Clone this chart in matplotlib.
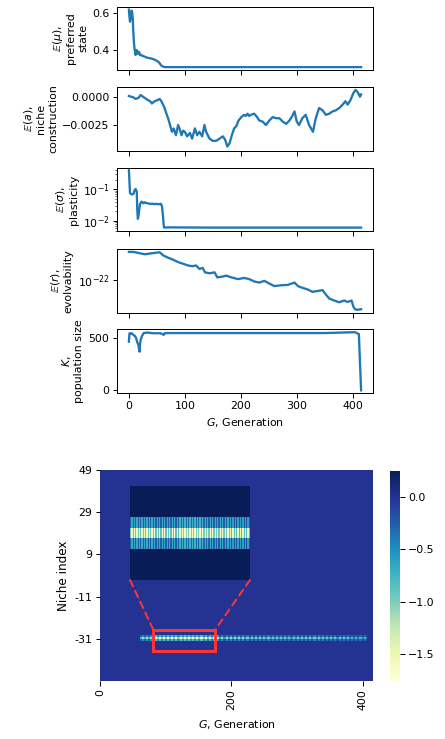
import numpy as np
import matplotlib
matplotlib.use("Agg")
import matplotlib.pyplot as plt
from matplotlib.patches import Rectangle, ConnectionPatch
from matplotlib.ticker import FixedLocator, NullLocator, LogFormatterSciNotation

# ---------------- data ----------------
mu_gen = [0, 1, 2, 3, 4, 5, 6, 7, 8, 9, 10, 11, 12, 13, 14, 15, 16, 17, 18, 19, 20,
          22, 24, 26, 28, 30, 32, 35, 38, 41, 44, 47, 50, 53, 55, 57, 59, 61, 63, 66,
          70, 100, 200, 300, 415]
mu_val = [0.618, 0.578, 0.552, 0.605, 0.570, 0.612, 0.600, 0.560, 0.488, 0.440, 0.405,
          0.385, 0.371, 0.392, 0.398, 0.378, 0.386, 0.380, 0.389, 0.376, 0.370,
          0.372, 0.366, 0.365, 0.362, 0.359, 0.357, 0.355, 0.353, 0.351, 0.348, 0.344,
          0.339, 0.333, 0.326, 0.317, 0.311, 0.308, 0.306, 0.305,
          0.305, 0.305, 0.305, 0.305, 0.305]

a_gen = [0, 4, 8, 12, 17, 21, 25, 28, 34, 38, 41, 46, 51, 55, 58, 63, 67, 70, 73, 77,
         80, 84, 88, 91, 94, 97, 100, 104, 109, 113, 118, 122, 126, 131, 135, 138, 144,
         150, 156, 162, 168, 172, 176, 180, 184, 188, 192, 196, 201, 206, 209, 212, 215,
         218, 224, 229, 233, 239, 245, 251, 257, 263, 269, 275, 281, 287, 292, 296, 300,
         304, 310, 316, 322, 329, 334, 340, 346, 352, 358, 364, 370, 376, 382, 387, 391,
         396, 401, 405, 409, 413, 415]
a_val = [0.00006, 0.0000, -0.00006, -0.0002, -0.0001, 0.00015, 0.0000, -0.0001,
         -0.0003, -0.0004, -0.0006, -0.0004, -0.0003, -0.0002, -0.0004, -0.0009,
         -0.0015, -0.0019, -0.0024, -0.0031, -0.0028, -0.0034, -0.0025, -0.0029,
         -0.0034, -0.0030, -0.0031, -0.0035, -0.0032, -0.0037, -0.0028, -0.0034,
         -0.0031, -0.0035, -0.0025, -0.0031, -0.0037, -0.0039, -0.0039, -0.0037,
         -0.0035, -0.0038, -0.0044, -0.0041, -0.0034, -0.0028, -0.0026, -0.0021,
         -0.0018, -0.0016, -0.0017, -0.0015, -0.0017, -0.0016, -0.0015, -0.0018,
         -0.0021, -0.0022, -0.0025, -0.0021, -0.0018, -0.0019, -0.0019, -0.0022,
         -0.0024, -0.0021, -0.0017, -0.0013, -0.0022, -0.0025, -0.0019, -0.0016,
         -0.0025, -0.0031, -0.0019, -0.0010, -0.0012, -0.0016, -0.0015, -0.0013,
         -0.0012, -0.0010, -0.0007, -0.0004, -0.0007, -0.0003, 0.0003, 0.0006,
         0.0004, 0.0000, 0.0002]

sig_gen = [0, 1, 2, 3, 5, 8, 10, 12, 14, 15, 16, 17, 18, 20, 23, 26, 28, 31, 34, 37,
           40, 43, 46, 49, 52, 55, 57, 59, 61, 62, 63, 70, 150, 250, 350, 415]
sig_val = [0.40, 0.17, 0.076, 0.072, 0.069, 0.071, 0.093, 0.102, 0.085, 0.022, 0.0117,
           0.014, 0.020, 0.035, 0.041, 0.036, 0.039, 0.037, 0.036, 0.035, 0.035, 0.035,
           0.034, 0.035, 0.034, 0.034, 0.035, 0.030, 0.014, 0.0079, 0.0062, 0.0063,
           0.0062, 0.0062, 0.0062, 0.0062]

r_gen = [0, 8, 17, 28, 37, 46, 55, 61, 70, 79, 88, 97, 106, 113, 120, 126, 132, 136,
         144, 153, 158, 165, 174, 183, 195, 206, 215, 224, 233, 242, 251, 260, 272,
         284, 296, 302, 310, 319, 328, 337, 346, 352, 358, 367, 376, 385, 391, 398,
         401, 404, 408, 415]
r_log10 = [-14.30, -14.30, -14.58, -14.94, -14.75, -14.58, -14.39, -15.22, -15.86,
           -16.41, -17.05, -17.51, -17.97, -18.15, -17.97, -18.89, -18.61, -19.81,
           -20.07, -19.81, -21.16, -21.01, -20.70, -21.16, -21.63, -21.32, -21.63,
           -22.26, -22.57, -22.10, -22.83, -23.50, -23.29, -23.19, -22.57, -23.50,
           -23.97, -24.39, -25.06, -24.85, -24.60, -25.77, -26.87, -27.40, -27.87,
           -27.40, -27.79, -27.40, -28.96, -29.74, -29.90, -29.74]

K_gen = [0, 1, 3, 5, 8, 11, 13, 15, 17, 18, 19, 20, 21, 23, 26, 32, 44, 56, 60, 62,
         64, 70, 150, 250, 350, 404, 408, 411, 415]
K_val = [467, 548, 545, 548, 532, 520, 500, 460, 436, 400, 371, 450, 484, 516, 548,
         555, 548, 548, 540, 532, 548, 550, 550, 550, 550, 558, 548, 540, 0]

# heatmap: niche index (rows, top = 49) x generation (columns)
niche_labels = ['49', '29', '9', '-11', '-31']
n_niches = 100
n_gens = 416
stripe_row = 79
block_start = [61, 80, 100, 120, 140, 160, 180, 220, 260, 300, 340, 380]
block_end = [80, 100, 120, 140, 160, 180, 220, 260, 300, 340, 380, 406]
center_hi = [-1.10, -1.60, -1.754, -1.65, -1.70, -1.55, -1.10, -1.00, -0.95, -1.00, -0.90, -0.75]
center_lo = [-0.75, -1.05, -1.00, -1.10, -1.05, -0.95, -0.60, -0.55, -0.50, -0.55, -0.50, -0.40]
side_hi = [-0.50, -0.80, -0.80, -0.85, -0.80, -0.75, -0.45, -0.40, -0.40, -0.40, -0.35, -0.30]
side_lo = [-0.25, -0.45, -0.45, -0.50, -0.45, -0.40, -0.20, -0.20, -0.20, -0.20, -0.15, -0.15]
end_col = 406
end_value = 0.245

# ---------------- build heatmap matrix ----------------
H = np.zeros((n_niches, n_gens))
for s, e, ch, cl, sh, sl in zip(block_start, block_end, center_hi, center_lo, side_hi, side_lo):
    for c in range(s, e):
        hi = (c % 2 == 0)
        H[stripe_row, c] = ch if hi else cl
        H[stripe_row - 1, c] = sh if hi else sl
        H[stripe_row + 1, c] = sh if hi else sl
H[stripe_row, end_col] = end_value

# ---------------- figure ----------------
W, Hpx, DPI = 445, 739, 72
fig = plt.figure(figsize=(W / DPI, Hpx / DPI), dpi=DPI)
plt.rcParams['font.family'] = ['DejaVu Sans']

blue = '#1f77b4'
tick_fs = 11
lab_fs = 11

def px_axes(x0, y0, x1, y1):
    return fig.add_axes([x0 / W, 1 - y1 / Hpx, (x1 - x0) / W, (y1 - y0) / Hpx])

panel_px = [(6.7, 70.0), (87.3, 150.6), (168.3, 231.0), (249.0, 312.7), (329.3, 393.3)]
axes = []
for i, (t, b) in enumerate(panel_px):
    ax = px_axes(117.3, t, 372.7, b)
    if axes:
        ax.sharex(axes[0])
    axes.append(ax)

for ax in axes:
    ax.tick_params(labelsize=tick_fs, length=4.5, width=1)
    for sp in ax.spines.values():
        sp.set_linewidth(1.0)
    ax.set_xticks([0, 100, 200, 300, 400])
for ax in axes[:-1]:
    ax.tick_params(labelbottom=False)

lw = 2.3
axes[0].plot(mu_gen, mu_val, color=blue, lw=lw)
axes[0].set_yticks([0.4, 0.6])
axes[0].set_ylabel("$\\mathbb{E}(\\mu)$,\npreferred\nstate", fontsize=lab_fs)

axes[1].plot(a_gen, a_val, color=blue, lw=lw)
axes[1].set_yticks([-0.0025, 0.0])
axes[1].set_ylim(-0.00476, 0.00083)
axes[1].set_ylabel("$\\mathbb{E}(a)$,\nniche\nconstruction", fontsize=lab_fs)

axes[2].plot(sig_gen, sig_val, color=blue, lw=lw)
axes[2].set_yscale('log')
axes[2].set_ylim(10 ** -2.315, 10 ** -0.337)
axes[2].set_ylabel("$\\mathbb{E}(\\sigma)$,\nplasticity", fontsize=lab_fs)

axes[3].plot(r_gen, 10.0 ** np.array(r_log10), color=blue, lw=lw)
axes[3].set_yscale('log')
axes[3].yaxis.set_major_locator(FixedLocator([1e-22]))
axes[3].yaxis.set_major_formatter(LogFormatterSciNotation())
axes[3].yaxis.set_minor_locator(NullLocator())
axes[3].set_ylabel("$\\mathbb{E}(r)$,\nevolvability", fontsize=lab_fs)

axes[4].plot(K_gen, K_val, color=blue, lw=lw)
axes[4].set_yticks([0, 500])
axes[4].set_ylabel("$K$,\npopulation size", fontsize=lab_fs)
axes[4].set_xlabel("$G$, Generation", fontsize=lab_fs, labelpad=5)

# ---------------- heatmap ----------------
hx = px_axes(100.0, 470.0, 373.3, 681.0)
mesh = hx.pcolormesh(np.arange(n_gens + 1), np.arange(n_niches + 1), H,
                     cmap='YlGnBu', vmin=H.min(), vmax=H.max())
hx.set_xlim(0, n_gens)
hx.set_ylim(n_niches, 0)
for sp in hx.spines.values():
    sp.set_visible(False)
hx.set_yticks([0, 20, 40, 60, 80])
hx.set_yticklabels(niche_labels)
hx.set_xticks([0, 200, 400])
hx.set_xticklabels(['0', '200', '400'], rotation=90)
hx.tick_params(labelsize=tick_fs, length=4.5, width=1)
hx.set_ylabel("Niche index", fontsize=12)
hx.set_xlabel("$G$, Generation", fontsize=lab_fs, labelpad=8)

# inset
ins_rows = (75, 84)
ins_cols = (81, 176)
axins = hx.inset_axes([30 / 273.3, 101 / 211, 120 / 273.3, 94 / 211])
axins.imshow(H[ins_rows[0]:ins_rows[1], ins_cols[0]:ins_cols[1]], aspect='auto',
             cmap='YlGnBu', interpolation='nearest')
axins.set_axis_off()

red = '#ff3535'
rect_x0, rect_x1 = 81, 175.6
rect_y0, rect_y1 = 75.6, 86.0
hx.add_patch(Rectangle((rect_x0, rect_y0), rect_x1 - rect_x0, rect_y1 - rect_y0,
                       fill=False, ec=red, lw=3, zorder=5))
for xa, xb in [(0, rect_x0), (1, rect_x1)]:
    con = ConnectionPatch(xyA=(xa, 0), coordsA=axins.transAxes,
                          xyB=(xb, rect_y0), coordsB=hx.transData,
                          color=red, lw=2, ls=(0, (3.5, 2.5)))
    fig.add_artist(con)

cax = px_axes(390.0, 471.0, 400.0, 681.0)
cb = fig.colorbar(mesh, cax=cax)
cb.outline.set_visible(False)
cb.set_ticks([0.0, -0.5, -1.0, -1.5])
cb.ax.tick_params(labelsize=tick_fs, length=4.5, width=1)

fig.savefig("out.png", dpi=DPI)
